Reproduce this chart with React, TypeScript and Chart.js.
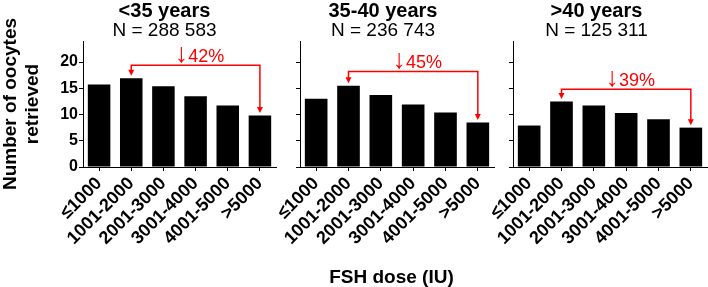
import React, { useEffect, useRef } from "react";
import { Chart, registerables } from "chart.js";

Chart.register(...registerables);

// ---- data ----
const categories = ["≤1000", "1001-2000", "2001-3000", "3001-4000", "4001-5000", ">5000"];
const panelTitles = ["<35 years", "35-40 years", ">40 years"];
const panelCounts = ["N = 288 583", "N = 236 743", "N = 125 311"];
const valuesUnder35 = [15.7, 16.9, 15.4, 13.5, 11.7, 9.8];
const values35to40 = [13.0, 15.5, 13.7, 11.9, 10.4, 8.5];
const valuesOver40 = [7.9, 12.5, 11.7, 10.3, 9.1, 7.5];
const decreaseArrow = "↓";
const decreasePercents = ["42%", "45%", "39%"];
const bracketLevels = [19.4, 18.2, 14.8];
const bracketFrom = 1;
const bracketTo = 5;
const yMin = 0;
const yMax = 24;
const yStep = 5;
const yTitle = ["Number of oocytes", "retrieved"];
const xTitle = "FSH dose (IU)";

const seriesList = [valuesUnder35, values35to40, valuesOver40];

// ---- layout / style ----
const W = 708;
const H = 287;
const FONT = "'Liberation Sans', Arial, Helvetica, sans-serif";
const RED = "#ff0000";
const panelLayout = [
  { padLeft: 0, yWidth: 83, padRight: 432, titleX: 164.5 },
  { padLeft: 290, yWidth: 10, padRight: 214, titleX: 383 },
  { padLeft: 503, yWidth: 10, padRight: 1, titleX: 596.5 },
];

const bracketPlugin = {
  id: "bracket",
  afterDatasetsDraw(chart: any, _args: any, opts: any) {
    if (!opts || !opts.text) return;
    const ctx = chart.ctx;
    const xs = chart.scales.x;
    const ys = chart.scales.y;
    const data = chart.data.datasets[0].data as number[];
    const x1 = xs.getPixelForValue(opts.from);
    const x2 = xs.getPixelForValue(opts.to);
    const yl = ys.getPixelForValue(opts.level);
    const gap = 2.5;
    const y1 = ys.getPixelForValue(data[opts.from]) - gap;
    const y2 = ys.getPixelForValue(data[opts.to]) - gap;
    const ah = 6;
    const aw = 3;
    ctx.save();
    ctx.strokeStyle = RED;
    ctx.fillStyle = RED;
    ctx.lineWidth = 1.5;
    ctx.beginPath();
    ctx.moveTo(x1, y1 - ah + 1);
    ctx.lineTo(x1, yl);
    ctx.lineTo(x2, yl);
    ctx.lineTo(x2, y2 - ah + 1);
    ctx.stroke();
    for (const [px, py] of [
      [x1, y1],
      [x2, y2],
    ]) {
      ctx.beginPath();
      ctx.moveTo(px - aw, py - ah);
      ctx.lineTo(px + aw, py - ah);
      ctx.lineTo(px, py);
      ctx.closePath();
      ctx.fill();
    }
    const arrowFont = `27px ${FONT}`;
    const textFont = `18px ${FONT}`;
    ctx.font = arrowFont;
    const aW = ctx.measureText(opts.arrow).width;
    ctx.font = textFont;
    const tW = ctx.measureText(opts.text).width;
    const cx = (x1 + x2) / 2 + 4;
    const start = cx - (aW + tW) / 2;
    const base = yl - 3;
    ctx.textAlign = "left";
    ctx.textBaseline = "alphabetic";
    ctx.font = arrowFont;
    ctx.fillText(opts.arrow, start, base);
    ctx.font = textFont;
    ctx.fillText(opts.text, start + aW, base);
    ctx.restore();
  },
};

function makeConfig(i: number): any {
  const lay = panelLayout[i];
  return {
    type: "bar",
    data: {
      labels: categories,
      datasets: [
        {
          data: seriesList[i],
          backgroundColor: "#000",
          borderWidth: 0,
          barPercentage: 0.7,
          categoryPercentage: 1.0,
        },
      ],
    },
    plugins: [bracketPlugin],
    options: {
      responsive: false,
      animation: false,
      devicePixelRatio: 1,
      layout: {
        padding: { left: lay.padLeft, right: lay.padRight, top: 41, bottom: 40 },
      },
      plugins: {
        legend: { display: false },
        tooltip: { enabled: false },
        title: { display: false },
        bracket: {
          arrow: decreaseArrow,
          text: decreasePercents[i],
          level: bracketLevels[i],
          from: bracketFrom,
          to: bracketTo,
        },
      },
      scales: {
        x: {
          offset: true,
          grid: {
            display: true,
            drawOnChartArea: false,
            drawTicks: true,
            tickLength: 4,
            color: "#000",
            lineWidth: 1,
            offset: false,
          },
          border: { display: true, color: "#000", width: 1 },
          ticks: {
            color: "#000",
            font: { family: FONT, size: 18, weight: "bold" },
            maxRotation: 45,
            minRotation: 45,
            autoSkip: false,
            padding: 2,
          },
          afterFit: (s: any) => {
            s.height = 80;
            s.paddingLeft = 0;
            s.paddingRight = 0;
          },
        },
        y: {
          min: yMin,
          max: yMax,
          grid: {
            display: true,
            drawOnChartArea: false,
            drawTicks: true,
            tickLength: 4,
            color: "#000",
            lineWidth: 1,
          },
          border: { display: true, color: "#000", width: 1 },
          ticks: {
            stepSize: yStep,
            includeBounds: false,
            color: "#000",
            padding: 1,
            font: { family: FONT, size: 16, weight: "bold" },
            callback: (v: any) => (i === 0 ? String(v) : ""),
          },
          title: {
            display: i === 0,
            text: yTitle,
            color: "#000",
            font: { family: FONT, size: 19, weight: "bold", lineHeight: 1.15 },
            padding: { top: 0, bottom: 0 },
          },
          afterFit: (s: any) => {
            s.width = lay.yWidth;
            s.paddingTop = 0;
            s.paddingBottom = 0;
          },
        },
      },
    },
  };
}

export default function App() {
  const r0 = useRef<HTMLCanvasElement>(null);
  const r1 = useRef<HTMLCanvasElement>(null);
  const r2 = useRef<HTMLCanvasElement>(null);

  useEffect(() => {
    const refs = [r0, r1, r2];
    const charts = refs.map((r, i) => new Chart(r.current as HTMLCanvasElement, makeConfig(i)));
    return () => charts.forEach((c) => c.destroy());
  }, []);

  const canvasStyle: React.CSSProperties = {
    position: "absolute",
    left: 0,
    top: 0,
    width: W,
    height: H,
  };

  return (
    <div
      style={{
        position: "fixed",
        left: 0,
        top: 0,
        width: W,
        height: H,
        background: "#fff",
        fontFamily: FONT,
        color: "#000",
        overflow: "hidden",
      }}
    >
      <canvas ref={r0} width={W} height={H} style={canvasStyle} />
      <canvas ref={r1} width={W} height={H} style={canvasStyle} />
      <canvas ref={r2} width={W} height={H} style={canvasStyle} />
      {panelTitles.map((t, i) => (
        <div
          key={"t" + i}
          style={{
            position: "absolute",
            left: panelLayout[i].titleX - 100,
            width: 200,
            top: 0,
            textAlign: "center",
            fontSize: 20,
            fontWeight: "bold",
            lineHeight: "20px",
            whiteSpace: "nowrap",
          }}
        >
          {t}
        </div>
      ))}
      {panelCounts.map((t, i) => (
        <div
          key={"n" + i}
          style={{
            position: "absolute",
            left: panelLayout[i].titleX - 100,
            width: 200,
            top: 20,
            textAlign: "center",
            fontSize: 19,
            lineHeight: "19px",
            whiteSpace: "nowrap",
          }}
        >
          {t}
        </div>
      ))}
      <div
        style={{
          position: "absolute",
          left: 391.5 - 100,
          width: 200,
          top: 267,
          textAlign: "center",
          fontSize: 19,
          fontWeight: "bold",
          lineHeight: "19px",
          whiteSpace: "nowrap",
        }}
      >
        {xTitle}
      </div>
    </div>
  );
}
